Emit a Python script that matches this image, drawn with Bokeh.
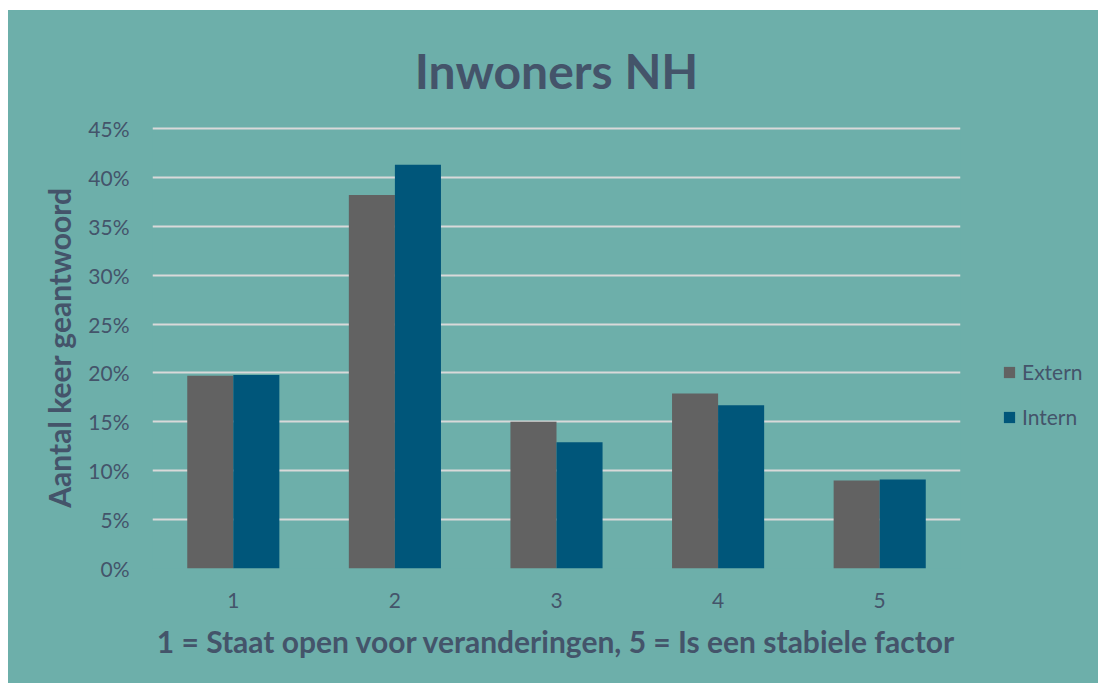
from bokeh.plotting import figure
from bokeh.models import (ColumnDataSource, Range1d, FixedTicker, NumeralTickFormatter,
                          Legend, LegendItem, Title)
from bokeh.transform import dodge
from bokeh.embed import file_html
from bokeh.resources import INLINE

categories = ["1", "2", "3", "4", "5"]
extern = [0.197, 0.382, 0.150, 0.179, 0.090]
intern = [0.198, 0.413, 0.129, 0.167, 0.091]
y_ticks = [0, 0.05, 0.10, 0.15, 0.20, 0.25, 0.30, 0.35, 0.40, 0.45]

BG = "#6DAFAA"
TXT = "#44546A"
FONT = "Lato"

src = ColumnDataSource(dict(cat=categories, extern=extern, intern=intern))

p = figure(x_range=categories, y_range=Range1d(0, 0.452),
           frame_width=808, frame_height=442,
           min_border_left=144, min_border_right=138, min_border_top=116, min_border_bottom=115,
           output_backend="svg", toolbar_location=None)
p.margin = (10, 0, 0, 8)
p.styles = {"background-color": BG}

p.background_fill_color = BG
p.border_fill_color = BG
p.outline_line_color = None

r1 = p.vbar(x=dodge("cat", -0.1425, range=p.x_range), top="extern", width=0.285,
            source=src, fill_color="#626262", line_color=None)
r2 = p.vbar(x=dodge("cat", 0.1425, range=p.x_range), top="intern", width=0.285,
            source=src, fill_color="#00567A", line_color=None)

# title
p.title = Title(text="Inwoners NH", align="center", text_font=FONT, text_font_size="48px",
                text_font_style="bold", text_color=TXT, standoff=56)

# axes
p.yaxis.ticker = FixedTicker(ticks=y_ticks)
p.yaxis.formatter = NumeralTickFormatter(format="0%")
for ax in (p.xaxis[0], p.yaxis[0]):
    ax.axis_line_color = None
    ax.major_tick_line_color = None
    ax.minor_tick_line_color = None
    ax.major_tick_out = 0
    ax.major_tick_in = 0
    ax.major_label_text_font = FONT
    ax.major_label_text_font_size = "21px"
    ax.major_label_text_color = TXT
    ax.axis_label_text_font = FONT
    ax.axis_label_text_font_style = "bold"
    ax.axis_label_text_color = TXT

p.yaxis.major_label_standoff = 23
p.yaxis.axis_label = "Aantal keer geantwoord"
p.yaxis.axis_label_text_font_size = "30px"
p.yaxis.axis_label_standoff = 8

p.xaxis.major_label_standoff = 24
p.xaxis.axis_label = "1 = Staat open voor veranderingen, 5 = Is een stabiele factor"
p.xaxis.axis_label_text_font_size = "30px"
p.xaxis.axis_label_standoff = 12

p.xgrid.grid_line_color = None
p.ygrid.grid_line_color = "#D9D9D9"
p.ygrid.grid_line_width = 2

legend = Legend(items=[LegendItem(label="Extern", renderers=[r1]),
                       LegendItem(label="Intern", renderers=[r2])],
                location=(42, 139), orientation="vertical",
                glyph_width=14, glyph_height=14, label_standoff=6,
                label_text_font=FONT, label_text_font_size="21px", label_text_color=TXT,
                label_height=20, spacing=20, padding=0, margin=0,
                border_line_color=None, background_fill_alpha=0)
p.add_layout(legend, "right")

open("out.html", "w").write(file_html(p, INLINE))
